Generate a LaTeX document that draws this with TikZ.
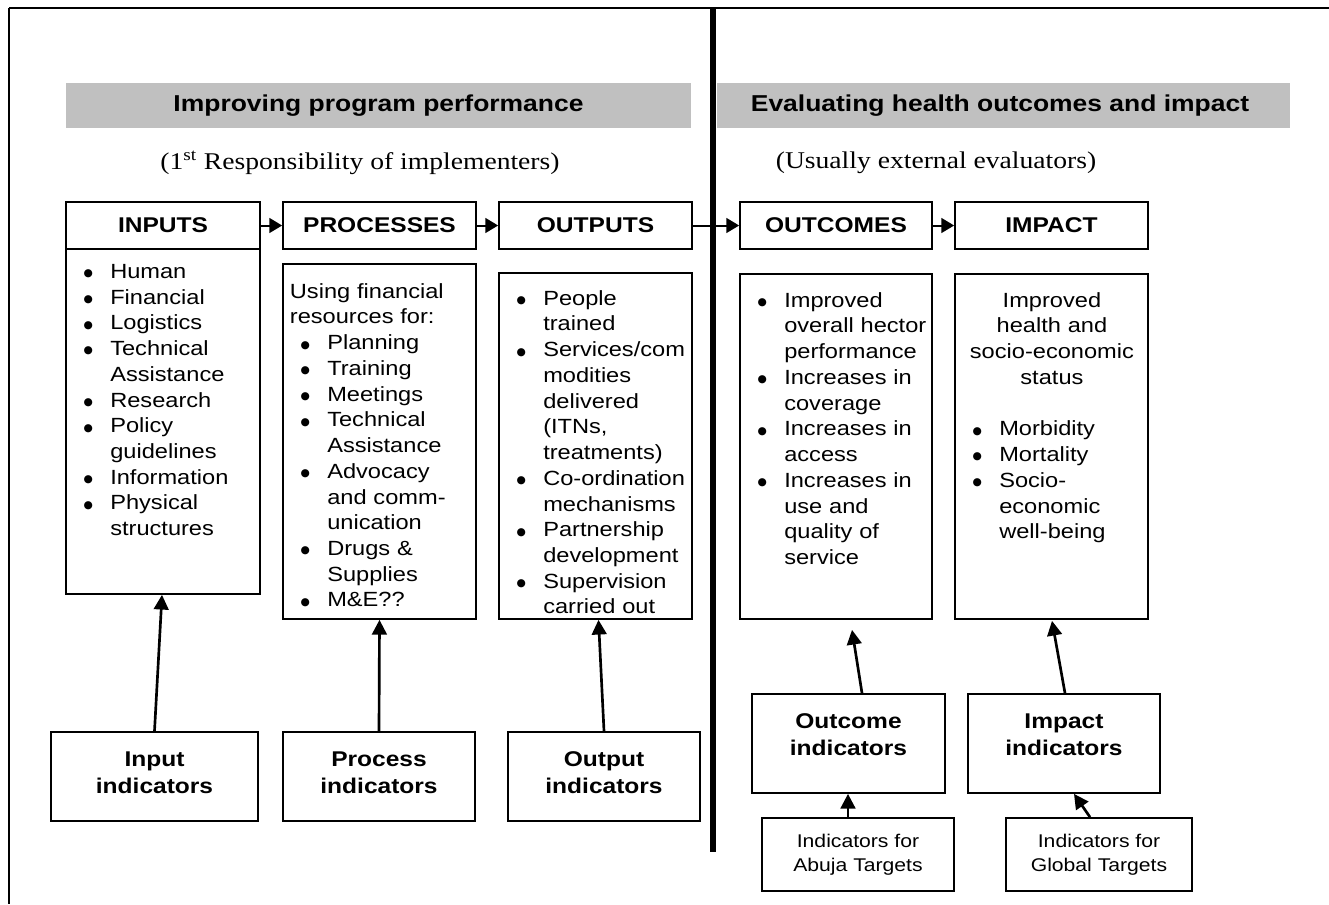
\documentclass[tikz,border=0pt]{standalone}
\usepackage{fontspec}
\setmainfont{Liberation Sans}[FakeStretch=1.15]
\newfontfamily\subfont{Liberation Serif}[FakeStretch=1.15]
\newfontfamily\dotfont{DejaVu Sans}
\usetikzlibrary{arrows.meta,fit,calc}
\definecolor{bargray}{RGB}{192,192,192}

% bulleted line with hanging indent; continuation lines via \newline
\newcommand\bigdot{\raisebox{1.2pt}{\dotfont\fontsize{8pt}{8pt}\selectfont ●}}
\newcommand\blfirst{\noindent\hangindent=33pt\hangafter=1\makebox[33pt][c]{\bigdot}}
\newcommand\bl{\par\blfirst}

\begin{document}
\begin{tikzpicture}[x=0.75pt,y=-0.75pt,
  bar/.style={fill=bargray,draw=none,inner sep=0pt},
  titletext/.style={font=\bfseries\fontsize{17.25pt}{20pt}\selectfont,inner sep=0pt},
  subtext/.style={font=\subfont\fontsize{18pt}{21pt}\selectfont,inner sep=0pt},
  frame/.style={draw,line width=1.3pt,inner sep=0pt},
  blabel/.style={inner sep=0pt,align=center,font=\bfseries\fontsize{16pt}{20pt}\selectfont},
  slabel/.style={inner sep=0pt,align=center,font=\fontsize{13.8pt}{18pt}\selectfont},
  ltext/.style={anchor=north west,inner sep=0pt,text width=145pt,font=\fontsize{15.4pt}{19.3pt}\selectfont},
  harrow/.style={line width=1.5pt,-{Triangle[length=9.5pt,width=11pt]}},
  varrow/.style={line width=2pt,-{Triangle[length=11pt,width=11pt]}}]
\useasboundingbox (0,0) rectangle (1329,904);

% page frame (top and left edges only)
\draw[line width=2pt] (9,8) -- (1329,8);
\draw[line width=1.5pt] (9,8) -- (9,904);

% section banners
\node[bar,fit={(66,83)(691,128)}] (barL) {};
\node[bar,fit={(717,83)(1290,128)}] (barR) {};
\node[titletext] (titleL) at (378.5,105.5) {Improving program performance};
\node[titletext] (titleR) at (1000,105.5) {Evaluating health outcomes and impact};
\node[subtext] (subL) at (360,163) {(1\textsuperscript{st} Responsibility of implementers)};
\node[subtext] (subR) at (936,163) {(Usually external evaluators)};

% divider between the two halves
\draw[line width=5pt] (713,8) -- (713,852);

% stage headers
\node[frame,fit={(66,202)(260,249)}] (inputs) {};
\node[frame,fit={(283,202)(476,249)}] (processes) {};
\node[frame,fit={(499,202)(692,249)}] (outputs) {};
\node[frame,fit={(740,202)(932,249)}] (outcomes) {};
\node[frame,fit={(955,202)(1148,249)}] (impact) {};
\node[blabel] (inputsL) at (inputs) {INPUTS};
\node[blabel] (processesL) at (processes) {PROCESSES};
\node[blabel] (outputsL) at (outputs) {OUTPUTS};
\node[blabel] (outcomesL) at (outcomes) {OUTCOMES};
\node[blabel] (impactL) at (impact) {IMPACT};

\draw[harrow] (inputs.east) -- (processes.west);
\draw[harrow] (processes.east) -- (outputs.west);
\draw[harrow] (outputs.east) -- (outcomes.west);
\draw[harrow] (outcomes.east) -- (impact.west);

% detail boxes
\node[frame,fit={(66,249)(260,594)}] (inlist) {};
\node[frame,fit={(283,264)(476,619)}] (prlist) {};
\node[frame,fit={(499,273)(692,619)}] (outlist) {};
\node[frame,fit={(740,274)(932,619)}] (oclist) {};
\node[frame,fit={(955,274)(1148,619)}] (imlist) {};

\node[ltext] (intext) at (66,264) {%
\blfirst Human
\bl Financial
\bl Logistics
\bl Technical\newline Assistance
\bl Research
\bl Policy\newline guidelines
\bl Information
\bl Physical\newline structures\par};

\node[ltext] (prtext) at (283,283) {%
{\leftskip=5pt\noindent Using financial\newline resources for:\par}
\bl Planning
\bl Training
\bl Meetings
\bl Technical\newline Assistance
\bl Advocacy\newline and comm-\newline unication
\bl Drugs \&\newline Supplies
\bl M\&E??\par};

\node[ltext] (outtext) at (499,290) {%
\blfirst People\newline trained
\bl Services/com\newline modities\newline delivered\newline (ITNs,\newline treatments)
\bl Co-ordination\newline mechanisms
\bl Partnership\newline development
\bl Supervision\newline carried out\par};

\node[ltext] (octext) at (740,292) {%
\blfirst Improved\newline overall hector\newline performance
\bl Increases in\newline coverage
\bl Increases in\newline access
\bl Increases in\newline use and\newline quality of\newline service\par};

\node[ltext] (imtext) at (955,292) {%
{\centering Improved\\health and\\socio-economic\\status\par}
\vspace{19.3pt}
\bl Morbidity
\bl Mortality
\bl Socio-\newline economic\newline well-being\par};

% indicator boxes
\node[frame,fit={(51,732)(258,821)}] (inind) {};
\node[frame,fit={(283,732)(475,821)}] (prind) {};
\node[frame,fit={(508,732)(700,821)}] (outind) {};
\node[frame,fit={(752,694)(945,793)}] (ocind) {};
\node[frame,fit={(968,694)(1160,793)}] (imind) {};
\node[blabel] (inindL) at ($(inind)+(0,-4)$) {Input\\indicators};
\node[blabel] (prindL) at ($(prind)+(0,-4)$) {Process\\indicators};
\node[blabel] (outindL) at ($(outind)+(0,-4)$) {Output\\indicators};
\node[blabel] (ocindL) at ($(ocind)+(0,-9)$) {Outcome\\indicators};
\node[blabel] (imindL) at ($(imind)+(0,-9)$) {Impact\\indicators};

\node[frame,fit={(762,818)(954,891)}] (abuja) {};
\node[frame,fit={(1006,818)(1192,891)}] (global) {};
\node[slabel] (abujaL) at (abuja) {Indicators for\\Abuja Targets};
\node[slabel] (globalL) at (global) {Indicators for\\Global Targets};

\draw[varrow] (inind.north) -- ($(inlist.south)+(-1,0)$);
\draw[varrow] (prind.north) -- (prlist.south);
\draw[varrow] (outind.north) -- ($(outlist.south)+(3,0)$);
\draw[varrow] ($(ocind.north)+(13.5,0)$) -- ($(oclist.south)+(16,10)$);
\draw[varrow] ($(imind.north)+(1,0)$) -- ($(imlist.south)+(0.5,1)$);
\draw[varrow] ($(abuja.north)+(-10,0)$) -- ($(ocind.south)+(-0.5,0)$);
\draw[varrow] ($(global.north)+(-9,0)$) -- ($(imind.south)+(10,0)$);
\end{tikzpicture}
\end{document}
